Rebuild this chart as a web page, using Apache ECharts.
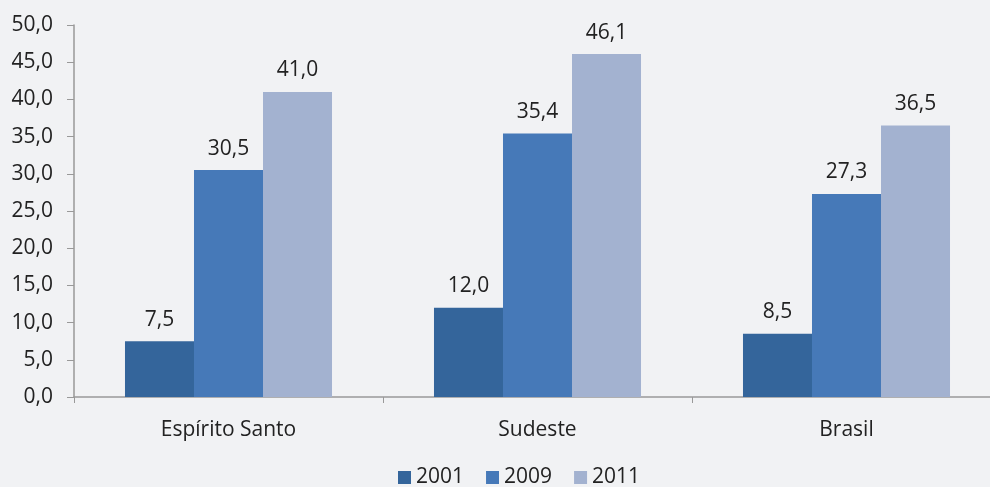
<!DOCTYPE html>
<html>
<head>
<meta charset="utf-8">
<script src="https://cdn.jsdelivr.net/npm/echarts@6/dist/echarts.min.js"></script>
<style>
  html, body { margin: 0; padding: 0; background: #f1f2f4; }
  #chart { width: 990px; height: 487px; }
</style>
</head>
<body>
<div id="chart"></div>
<script>
const categories = ['Espírito Santo', 'Sudeste', 'Brasil'];
const years = ['2001', '2009', '2011'];
const values2001 = [7.5, 12.0, 8.5];
const values2009 = [30.5, 35.4, 27.3];
const values2011 = [41.0, 46.1, 36.5];
const colors = ['#34659b', '#4679b8', '#a3b2d0'];

const fmt = v => v.toFixed(1).replace('.', ',');
const font = '"Open Sans", "Noto Sans", sans-serif';

const myChart = echarts.init(document.getElementById('chart'));

const makeSeries = (name, data, color) => ({
  name,
  type: 'bar',
  data,
  barGap: 0,
  barCategoryGap: '33%',
  itemStyle: { color },
  label: {
    show: true,
    position: 'top',
    distance: 11,
    color: '#222',
    fontSize: 21,
    fontFamily: font,
    formatter: p => fmt(p.value)
  }
});

const option = {
  backgroundColor: '#f1f2f4',
  animation: false,
  textStyle: { fontFamily: font },
  grid: { left: 74, top: 25, width: 927, height: 372, outerBoundsMode: 'none' },
  legend: {
    data: years,
    left: 393,
    top: 462,
    itemWidth: 13,
    itemHeight: 13,
    itemGap: 22,
    icon: 'rect',
    textStyle: { fontSize: 21, color: '#222', fontFamily: font }
  },
  xAxis: {
    type: 'category',
    data: categories,
    axisLine: { lineStyle: { color: '#999', width: 1.5 } },
    axisTick: { show: true, length: 6, lineStyle: { color: '#999' } },
    axisLabel: { color: '#222', fontSize: 21, margin: 23, fontFamily: font }
  },
  yAxis: {
    type: 'value',
    min: 0,
    max: 50,
    interval: 5,
    splitLine: { show: false },
    axisLine: { show: true, lineStyle: { color: '#999', width: 1.5 } },
    axisTick: { show: true, length: 7, lineStyle: { color: '#999' } },
    axisLabel: { color: '#222', fontSize: 21, margin: 21, fontFamily: font, formatter: v => fmt(v) }
  },
  series: [
    makeSeries(years[0], values2001, colors[0]),
    makeSeries(years[1], values2009, colors[1]),
    makeSeries(years[2], values2011, colors[2])
  ]
};

myChart.setOption(option);
</script>
</body>
</html>
